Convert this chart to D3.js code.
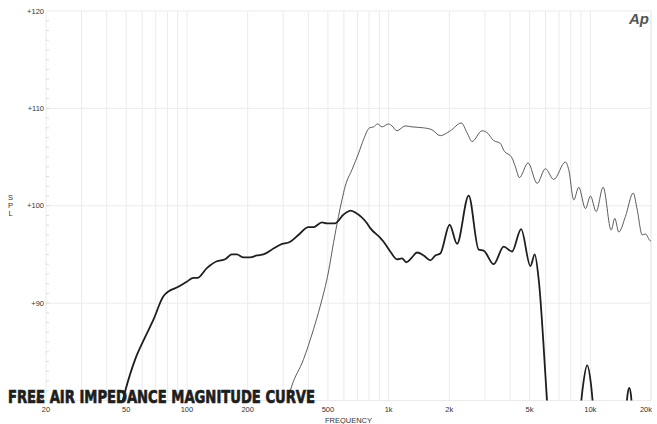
<!DOCTYPE html>
<meta charset="utf-8">
<script src="https://d3js.org/d3.v7.min.js"></script>
<style>
  body { margin: 0; background: #fff; }
</style>
<body>
<div id="my_dataviz"></div>

<script>

    // tick labels
    var freqTicks = [20, 50, 100, 200, 500, 1000, 2000, 5000, 10000, 20000];
    var freqLabels = ["20", "50", "100", "200", "500", "1k", "2k", "5k", "10k", "20k"];
    var splTicks = [80, 90, 100, 110, 120];
    var splLabels = ["+80", "+90", "+100", "+110", "+120"];

    // thin curve (SPL response)
    var splFreq = [250, 300, 331, 378, 424, 458, 504, 533, 564, 587, 609, 658, 710, 751, 804, 842, 882, 927,
      1000, 1039, 1100, 1209, 1306, 1492, 1641, 1804, 2024, 2294, 2448, 2592, 2906, 3078, 3318, 3582, 3721,
      4094, 4252, 4452, 4916, 5450, 5989, 6588, 7528, 7818, 8281, 8764, 9464, 10020, 10693, 11581, 12694,
      13226, 13845, 14940, 16320, 17083, 18088, 18778, 19880, 20000];
    var splDb = [72, 78.3, 81.5, 84.2, 87.3, 89.7, 93.3, 96.2, 98.9, 100.6, 102.0, 103.7, 105.4, 106.8, 108.0, 108.1, 108.4, 108.1,
      108.4, 108.2, 107.7, 108.2, 108.1, 108.0, 107.8, 107.2, 107.7, 108.5, 107.5, 106.6, 107.7, 107.5, 106.7, 106.4, 105.7,
      104.9, 104.0, 102.9, 104.4, 102.3, 103.8, 102.7, 104.5, 103.7, 100.6, 101.9, 99.7, 101.0, 99.4, 101.9, 97.5,
      98.7, 97.3, 98.9, 101.3, 99.6, 97.0, 97.1, 96.4, 96.4];

    // thick curve (impedance magnitude)
    var impFreq = [20, 40, 47.5, 49.3, 55.3, 62, 68.2, 76.4, 80.9, 89, 99.8, 107.7, 112.7, 125.5, 140.6, 154.6, 167, 176.8,
      190.7, 205.8, 222.2, 239.6, 268.6, 290, 325, 357, 400.6, 424, 467, 494, 543, 598, 650, 683, 781, 811, 909, 944,
      1019, 1100, 1165, 1224, 1306, 1383, 1492, 1610, 1704, 1804, 2007, 2184, 2494, 2796, 2960, 3318, 3721, 4094,
      4538, 5047, 5302, 5550, 6108, 6500, 8000, 8800, 9200, 9650, 10100, 10500, 11500, 14000, 14900, 15300, 15600,
      15900, 16300, 17500, 20000];
    var impDb = [55, 70, 79.6, 80.9, 84.2, 86.5, 88.3, 90.7, 91.2, 91.6, 92.2, 92.6, 92.6, 93.6, 94.3, 94.5, 95.0, 95.0,
      94.7, 94.7, 94.9, 95.0, 95.6, 96.0, 96.3, 97.0, 97.8, 97.8, 98.3, 98.2, 98.2, 99.1, 99.5, 99.3, 98.2, 97.7, 96.7, 96.3,
      95.3, 94.5, 94.6, 94.2, 94.7, 95.2, 94.9, 94.4, 94.9, 95.1, 98.05, 96.1, 101.05, 95.5, 95.4, 94.0, 95.8, 95.3,
      97.6, 93.8, 95.0, 92.4, 79.9, 72, 65, 77.5, 81.5, 83.6, 81.5, 77.5, 68, 68, 77.5, 80.6, 81.3,
      80.6, 77.5, 68, 62];

    // set the dimensions and margins of the graph
    var W = 657, H = 424;
    var margin = {top: 11, right: 6, bottom: 23.5, left: 46},
        width = W - margin.left - margin.right,
        height = H - margin.top - margin.bottom;

    var svg = d3.select("#my_dataviz")
      .append("svg")
        .attr("width", W)
        .attr("height", H)
        .style("font-family", "'Liberation Sans', Arial, sans-serif");

    var g = svg.append("g")
        .attr("transform", "translate(" + margin.left + "," + margin.top + ")");

    var x = d3.scaleLog().domain([20, 20000]).range([0, width]);
    var y = d3.scaleLinear().domain([80, 120]).range([height, 0]);

    // vertical grid: 20..90, 100..900, 1k..9k, 10k, 20k
    var gridF = [];
    [10, 100, 1000, 10000].forEach(function(dec) {
      for (var k = 1; k <= 9; k++) {
        var f = dec * k;
        if (f >= 20 && f <= 20000) gridF.push(f);
      }
    });
    gridF.push(20000);

    g.append("g")
      .selectAll("line")
      .data(gridF)
      .enter()
      .append("line")
        .attr("x1", function(d) { return x(d); })
        .attr("x2", function(d) { return x(d); })
        .attr("y1", 0)
        .attr("y2", height)
        .style("stroke", "#ebebeb")
        .style("stroke-width", 1);

    // horizontal grid every 10 dB
    g.append("g")
      .selectAll("line")
      .data(splTicks)
      .enter()
      .append("line")
        .attr("x1", 0)
        .attr("x2", width)
        .attr("y1", function(d) { return y(d); })
        .attr("y2", function(d) { return y(d); })
        .style("stroke", "#ebebeb")
        .style("stroke-width", 1);

    // minor ticks every 1 dB on the left
    g.append("g")
      .selectAll("line")
      .data(d3.range(81, 120))
      .enter()
      .append("line")
        .attr("x1", 0)
        .attr("x2", 3)
        .attr("y1", function(d) { return y(d); })
        .attr("y2", function(d) { return y(d); })
        .style("stroke", "#d4d4d4")
        .style("stroke-width", 0.8);

    // Y labels
    g.append("g")
      .selectAll("text")
      .data(splTicks)
      .enter()
      .append("text")
        .attr("x", -2)
        .attr("y", function(d) { return y(d); })
        .attr("dy", "0.35em")
        .attr("text-anchor", "end")
        .style("font-size", "7.5px")
        .style("fill", "#333")
        .text(function(d, i) { return splLabels[i]; });

    // X labels
    g.append("g")
      .selectAll("text")
      .data(freqTicks)
      .enter()
      .append("text")
        .attr("x", function(d, i) { return i == freqTicks.length - 1 ? x(d) + 1 : x(d); })
        .attr("y", height + 8.5)
        .attr("dy", "0.35em")
        .attr("text-anchor", function(d, i) { return i == freqTicks.length - 1 ? "end" : "middle"; })
        .style("font-size", "7.5px")
        .style("fill", "#333")
        .text(function(d, i) { return freqLabels[i]; });

    // axis titles
    svg.append("text")
      .attr("x", margin.left + width / 2)
      .attr("y", 420.5)
      .attr("dy", "0.35em")
      .attr("text-anchor", "middle")
      .style("font-size", "7.5px")
      .style("fill", "#333")
      .text("FREQUENCY");

    svg.append("text")
      .attr("x", 10.5)
      .attr("y", 197)
      .attr("text-anchor", "middle")
      .style("font-size", "7.5px")
      .style("fill", "#333")
      .selectAll("tspan")
      .data(["S", "P", "L"])
      .enter()
      .append("tspan")
        .attr("x", 10.5)
        .attr("dy", function(d, i) { return i == 0 ? "0.35em" : "1.07em"; })
        .text(function(d) { return d; });

    // clip curves to the plot area
    g.append("clipPath")
      .attr("id", "clip")
      .append("rect")
        .attr("width", width)
        .attr("height", height);

    var line = d3.line()
      .x(function(d) { return x(d[0]); })
      .y(function(d) { return y(d[1]); })
      .curve(d3.curveMonotoneX);

    g.append("path")
      .attr("clip-path", "url(#clip)")
      .datum(d3.zip(splFreq, splDb))
      .attr("d", line)
      .style("fill", "none")
      .style("stroke", "#4a4a4a")
      .style("stroke-width", 0.9);

    g.append("path")
      .attr("clip-path", "url(#clip)")
      .datum(d3.zip(impFreq, impDb))
      .attr("d", line)
      .style("fill", "none")
      .style("stroke", "#1e1e1e")
      .style("stroke-width", 1.8);

    // logo
    svg.append("text")
      .attr("x", 649)
      .attr("y", 24)
      .attr("text-anchor", "end")
      .style("font-size", "15px")
      .style("font-weight", "bold")
      .style("font-style", "italic")
      .style("fill", "#555")
      .text("Ap");

    // big title (heavy condensed look)
    svg.append("text")
      .attr("x", 8)
      .attr("y", 402.7)
      .attr("textLength", 307)
      .attr("lengthAdjust", "spacingAndGlyphs")
      .style("font-family", "'Liberation Sans Narrow', 'DejaVu Sans Condensed', sans-serif")
      .style("font-size", "18.5px")
      .style("font-weight", "bold")
      .style("fill", "#1e1e1e")
      .style("stroke", "#1e1e1e")
      .style("stroke-width", 0.7)
      .text("FREE AIR IMPEDANCE MAGNITUDE CURVE");

</script>
</body>
